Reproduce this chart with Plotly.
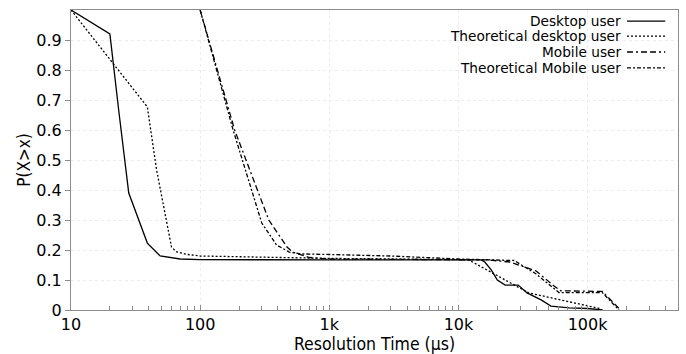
import plotly.graph_objects as go

# ---- data ----
series_names = ["Desktop user", "Theoretical desktop user", "Mobile user", "Theoretical Mobile user"]

desktop_x = [10, 20, 23.5, 28, 39, 49, 70, 100, 1000, 10000, 15000, 16000, 18000, 20000, 23000, 29000, 34000, 44000, 52000, 72000, 100000, 130000]
desktop_y = [1.0, 0.92, 0.66, 0.39, 0.223, 0.18, 0.17, 0.168, 0.167, 0.167, 0.167, 0.16, 0.133, 0.10, 0.083, 0.083, 0.057, 0.033, 0.013, 0.007, 0.005, 0.0]

theo_desktop_x = [10, 39, 46, 54.5, 60, 65, 80, 100, 300, 1000, 10000, 12000, 35000, 124000, 130000]
theo_desktop_y = [1.0, 0.677, 0.467, 0.30, 0.21, 0.195, 0.185, 0.18, 0.175, 0.172, 0.168, 0.167, 0.057, 0.005, 0.0]

mobile_x = [100, 185, 340, 470, 520, 700, 1000, 10000, 16600, 25000, 40000, 55000, 62000, 130000, 180000]
mobile_y = [1.0, 0.6, 0.30, 0.21, 0.193, 0.175, 0.17, 0.168, 0.167, 0.16, 0.13, 0.08, 0.064, 0.062, 0.0]

theo_mobile_x = [100, 180, 300, 390, 490, 600, 1000, 3000, 10000, 15000, 27000, 40000, 60000, 130000, 175000]
theo_mobile_y = [1.0, 0.6, 0.29, 0.217, 0.193, 0.187, 0.185, 0.18, 0.17, 0.167, 0.165, 0.12, 0.058, 0.058, 0.0]

x_tickvals = [10, 100, 1000, 10000, 100000]
x_ticktext = ["10", "100", "1k", "10k", "100k"]
y_tickvals = [0, 0.1, 0.2, 0.3, 0.4, 0.5, 0.6, 0.7, 0.8, 0.9]
y_ticktext = ["0", "0.1", "0.2", "0.3", "0.4", "0.5", "0.6", "0.7", "0.8", "0.9"]

dashes = ["solid", "2px,2px", "6px,3px,2px,3px,6px,3px", "4px,2px,2px,2px"]
all_x = [desktop_x, theo_desktop_x, mobile_x, theo_mobile_x]
all_y = [desktop_y, theo_desktop_y, mobile_y, theo_mobile_y]

FONT = "DejaVu Sans"
TITLE_FONT = "DejaVu Sans Condensed, DejaVu Sans"

fig = go.Figure()
for name, xs, ys, d in zip(series_names, all_x, all_y, dashes):
    fig.add_trace(go.Scatter(x=xs, y=ys, mode="lines", name=name,
                             line=dict(color="black", width=1.3, dash=d),
                             showlegend=False))

# custom legend (text right-aligned, line sample on the right)
legend_rows_y = [0.963, 0.913, 0.86, 0.807]
for name, d, yy in zip(series_names, dashes, legend_rows_y):
    fig.add_annotation(x=0.909, y=yy, xref="paper", yref="paper", text=name,
                       showarrow=False, xanchor="right", yanchor="middle",
                       font=dict(family=FONT, size=13.7, color="black"))
    fig.add_shape(type="line", xref="paper", yref="paper",
                  x0=0.916, x1=0.979, y0=yy, y1=yy,
                  line=dict(color="black", width=1.3, dash=d))

fig.update_layout(
    width=686, height=354,
    margin=dict(l=71, r=8, t=10, b=44),
    plot_bgcolor="white", paper_bgcolor="white",
    font=dict(family=FONT, size=16, color="black"),
)
fig.update_xaxes(
    type="log", range=[1, 5.7],
    tickvals=x_tickvals, ticktext=x_ticktext,
    showline=True, linecolor="#8c8c8c", linewidth=1.2, mirror=True,
    ticks="inside", ticklen=5, tickcolor="#8c8c8c",
    showgrid=True, gridcolor="#ececec", griddash="dot", gridwidth=1,
    minor=dict(ticks="inside", ticklen=4, tickcolor="#8c8c8c", dtick="D1", showgrid=False),
    zeroline=False,
    tickfont=dict(family=FONT, size=16),
    title=dict(text="Resolution Time (µs)", font=dict(family=TITLE_FONT, size=17.5), standoff=0),
)
fig.update_yaxes(
    range=[0, 1],
    tickvals=y_tickvals, ticktext=y_ticktext,
    showline=True, linecolor="#8c8c8c", linewidth=1.2, mirror=True,
    ticks="outside", ticklen=5, tickcolor="#8c8c8c",
    showgrid=True, gridcolor="#ececec", griddash="dot", gridwidth=1,
    zeroline=False,
    tickfont=dict(family=FONT, size=16),
    title=dict(text="P(X>x)", font=dict(family=TITLE_FONT, size=17), standoff=1),
)

fig.write_html("out.html")
